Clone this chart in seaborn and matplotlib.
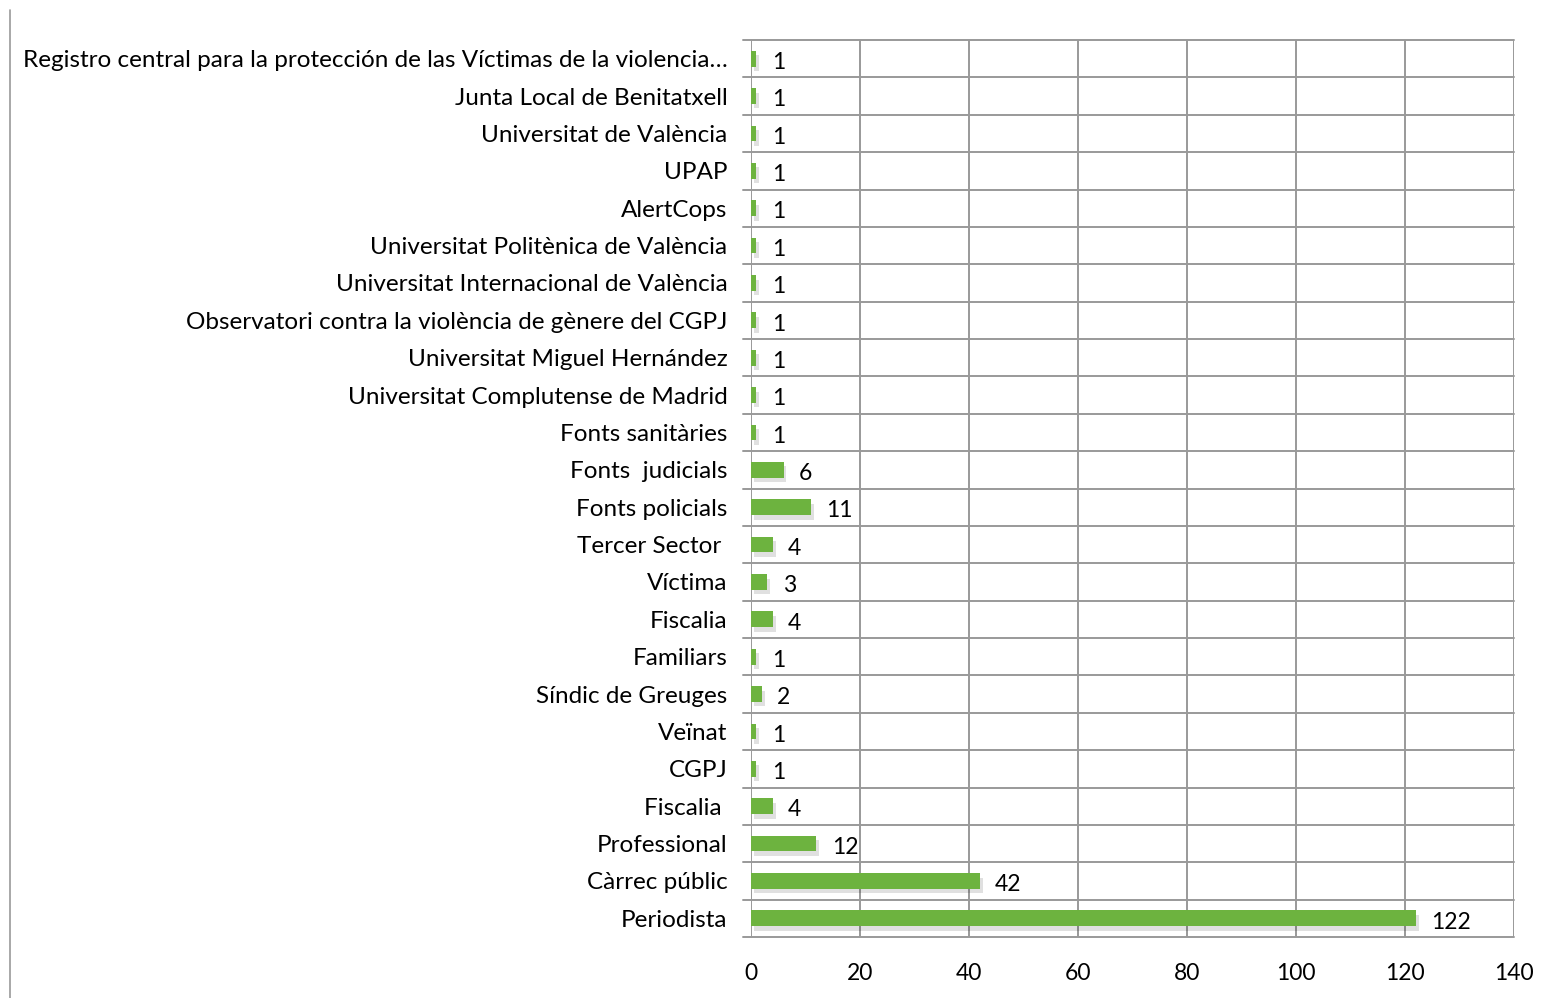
import matplotlib
matplotlib.use("Agg")
import matplotlib.pyplot as plt
import seaborn as sns
import pandas as pd
from matplotlib.lines import Line2D

categories = [
    "Registro central para la protección de las Víctimas de la violencia…",
    "Junta Local de Benitatxell",
    "Universitat de València",
    "UPAP",
    "AlertCops",
    "Universitat Politènica de València",
    "Universitat Internacional de València",
    "Observatori contra la violència de gènere del CGPJ",
    "Universitat Miguel Hernández",
    "Universitat Complutense de Madrid",
    "Fonts sanitàries",
    "Fonts  judicials",
    "Fonts policials",
    "Tercer Sector ",
    "Víctima",
    "Fiscalia",
    "Familiars",
    "Síndic de Greuges",
    "Veïnat",
    "CGPJ",
    "Fiscalia ",
    "Professional",
    "Càrrec públic",
    "Periodista",
]
values = [1, 1, 1, 1, 1, 1, 1, 1, 1, 1, 1, 6, 11, 4, 3, 4, 1, 2, 1, 1, 4, 12, 42, 122]
x_ticks = [0, 20, 40, 60, 80, 100, 120, 140]

sns.set_theme(style="white")
plt.rcParams['font.family'] = ['Lato', 'DejaVu Sans']

df = pd.DataFrame({"cat": categories, "val": values})

fig = plt.figure(figsize=(15.53, 9.98), dpi=100)
ax = fig.add_axes([751/1553, 1-937/998, (1514-751)/1553, (937-40)/998])

sns.barplot(data=df, y="cat", x="val", orient="h", color="#6DB33F",
            saturation=1, width=0.42, ax=ax, edgecolor="none", zorder=3)

# subtle shadow
for p in ax.patches:
    x0, y0 = p.get_x(), p.get_y()
    w, h = p.get_width(), p.get_height()
    sh = plt.Rectangle((x0 + 0.5, y0 + 0.12), w, h, color="#000000", alpha=0.12,
                       zorder=2, linewidth=0)
    ax.add_patch(sh)

n = len(categories)
ax.set_xlim(0, 140)
ax.set_ylim(n - 0.5, -0.5)
ax.set_xticks(x_ticks)
ax.set_xticklabels([str(t) for t in x_ticks], fontsize=16.5, color="#000000")
ax.tick_params(axis="x", length=8, color="#888888", width=1.2, pad=11)
ax.tick_params(axis="y", length=0, pad=17)
ax.set_yticks(range(n))
ax.set_yticklabels(categories, fontsize=17.5, color="#000000")
ax.set_xlabel("")
ax.set_ylabel("")

# grid
for t in x_ticks:
    ax.axvline(t, color="#999999", lw=1.4, zorder=1)
for i in range(n + 1):
    y = i - 0.5
    ax.plot([-1.5, 140], [y, y], color="#999999", lw=1.4, zorder=1, clip_on=False)

for s in ax.spines.values():
    s.set_visible(False)

for i, v in enumerate(values):
    ax.text(v + 2.8, i + 0.1, str(v), va="center", ha="left", fontsize=16.5, color="#000000")

fig.add_artist(Line2D([10/1553, 10/1553], [0, 1 - 10/998], color="#999999", lw=1.2))

fig.savefig("out.png", dpi=100)
